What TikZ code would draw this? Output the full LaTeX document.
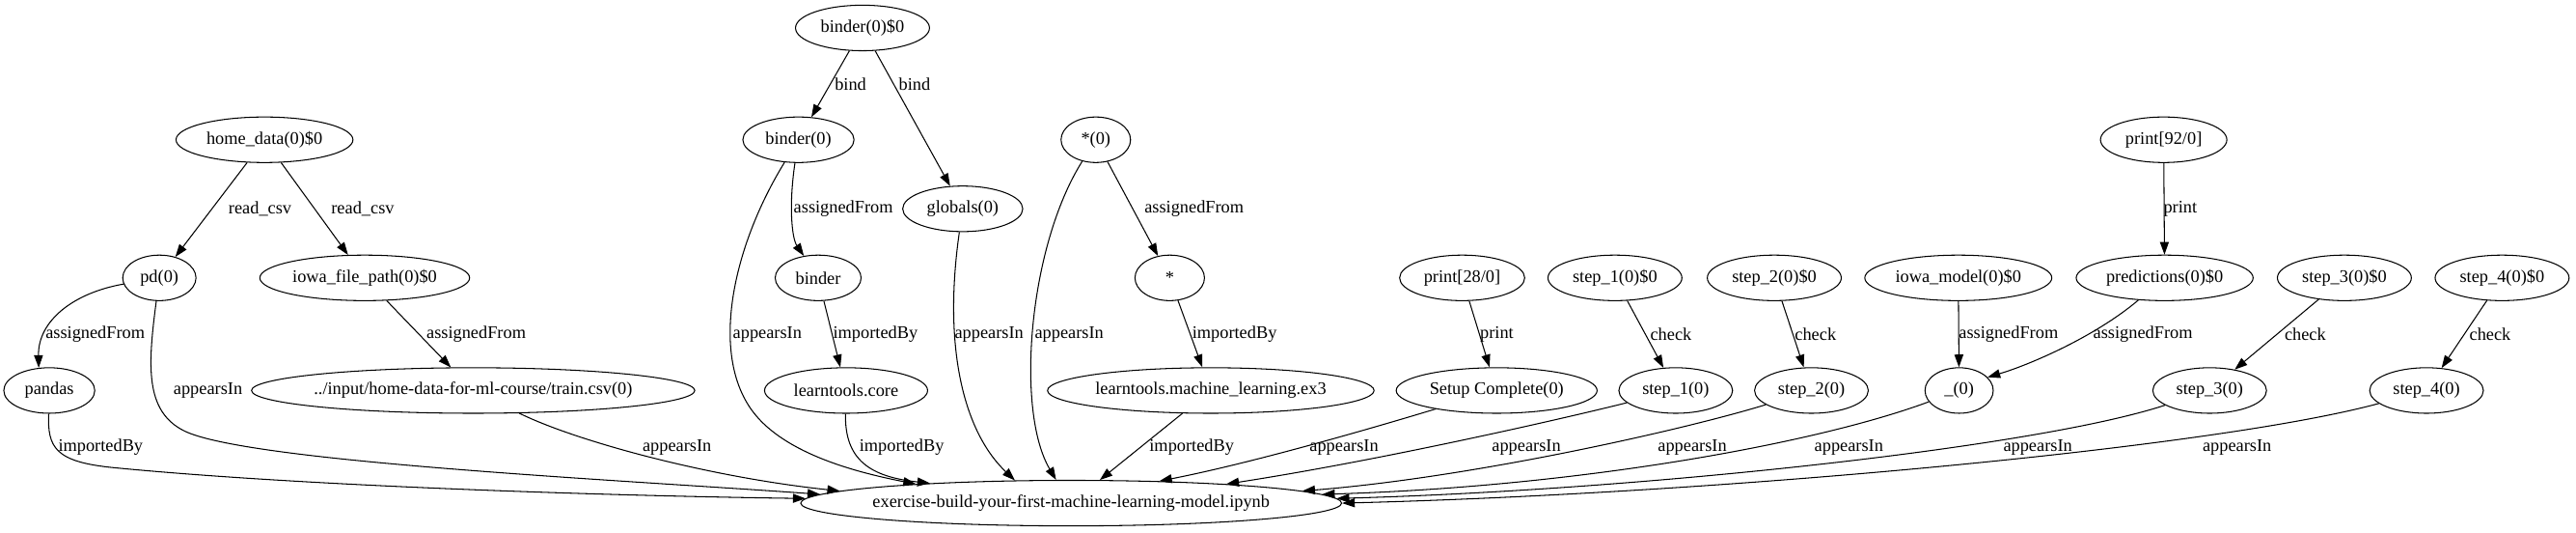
\documentclass[tikz,border=0pt]{standalone}
\usepackage{fontspec}
\setmainfont{Liberation Serif}
\usetikzlibrary{arrows.meta,shapes.geometric}

\begin{document}
\begin{tikzpicture}[
x=1.3pt, y=-1.3pt,
font=\fontsize{14}{16}\selectfont,
obj/.style={draw, ellipse, line width=0.8pt, minimum height=36pt, inner xsep=0pt, minimum width=#1},
obj/.default=54pt,
lbl/.style={anchor=west, inner sep=0pt},
arr/.style={-{Triangle[length=10pt, width=7pt]}, line width=0.8pt}
]
\useasboundingbox (0,0) rectangle (1568,324);

% objects, rank by rank
\node[obj=106pt] (bindvar) at (525,17) {binder(0)\$0};
\node[obj=140pt] (homedata) at (161,85) {home\_data(0)\$0};
\node[obj=88pt] (bindcall) at (486,85) {binder(0)};
\node[obj=55pt] (starcall) at (667,85) {*(0)};
\node[obj=100pt] (printB) at (1317,85) {print[92/0]};
\node[obj=95pt] (globs) at (586,127) {globals(0)};
\node[obj=58pt] (pd) at (97,169) {pd(0)};
\node[obj=166pt] (iowapath) at (222,169) {iowa\_file\_path(0)\$0};
\node[obj=68pt] (binder) at (498,169) {binder};
\node[obj=55pt] (star) at (712,169) {*};
\node[obj=99pt] (printA) at (890,169) {print[28/0]};
\node[obj=106pt] (stepAv) at (983,169) {step\_1(0)\$0};
\node[obj=106pt] (stepBv) at (1080,169) {step\_2(0)\$0};
\node[obj=148pt] (iowamodel) at (1192,169) {iowa\_model(0)\$0};
\node[obj=140pt] (preds) at (1317.6,169) {predictions(0)\$0};
\node[obj=106pt] (stepCv) at (1427,169) {step\_3(0)\$0};
\node[obj=106pt] (stepDv) at (1523,169) {step\_4(0)\$0};
\node[obj=72pt] (pandas) at (30,237.5) {pandas};
\node[obj=350pt, inner xsep=-2pt] (csv) at (288,237.5) {../input/home-data-for-ml-course/train.csv(0)};
\node[obj=129pt] (lcore) at (515,237.5) {learntools.core};
\node[obj=257pt] (lex) at (737,237.5) {learntools.machine\_learning.ex3};
\node[obj=159pt] (setup) at (911,237.5) {Setup Complete(0)};
\node[obj=90pt] (stepA) at (1020,237.5) {step\_1(0)};
\node[obj=90pt] (stepB) at (1102.6,237.5) {step\_2(0)};
\node[obj=54pt] (under) at (1192.5,237.5) {\_(0)};
\node[obj=90pt] (stepC) at (1345,237.5) {step\_3(0)};
\node[obj=90pt] (stepD) at (1477,237.5) {step\_4(0)};
\node[obj=428pt, inner xsep=-6pt] (nb) at (652,306) {exercise-build-your-first-machine-learning-model.ipynb};

% edge labels
\node[lbl] (lbindA) at (508,51) {bind};
\node[lbl] (lbindB) at (547,51) {bind};
\node[lbl] (lreadA) at (139,127) {read\_csv};
\node[lbl] (lreadB) at (201.5,127) {read\_csv};
\node[lbl] (lasgBind) at (483,127) {assignedFrom};
\node[lbl] (lasgStar) at (696.5,127) {assignedFrom};
\node[lbl] (lprintB) at (1316.8,127) {print};
\node[lbl] (lasgPd) at (27.6,203.5) {assignedFrom};
\node[lbl] (lasgPath) at (259.5,203.5) {assignedFrom};
\node[lbl] (lappBind) at (446,203.5) {appearsIn};
\node[lbl] (limpBinder) at (507,203.5) {importedBy};
\node[lbl] (lappGlobs) at (581,203.5) {appearsIn};
\node[lbl] (lappStar) at (629.7,203.5) {appearsIn};
\node[lbl] (limpStar) at (725.6,203.5) {importedBy};
\node[lbl] (lprintA) at (900.8,203.5) {print};
\node[lbl] (lcheckA) at (1004.4,203.5) {check};
\node[lbl] (lcheckB) at (1092.4,203.5) {check};
\node[lbl] (lasgModel) at (1192.2,203.5) {assignedFrom};
\node[lbl] (lasgPreds) at (1274,203.5) {assignedFrom};
\node[lbl] (lcheckC) at (1390.5,203.5) {check};
\node[lbl] (lcheckD) at (1503,203.5) {check};
\node[lbl] (lappPd) at (105.5,237.5) {appearsIn};
\node[lbl] (limpPandas) at (35.4,272) {importedBy};
\node[lbl] (lappCsv) at (391,272) {appearsIn};
\node[lbl] (limpCore) at (523,272) {importedBy};
\node[lbl] (limpEx) at (699.5,272) {importedBy};
\node[lbl] (lappSetup) at (797,272) {appearsIn};
\node[lbl] (lappA) at (908,272) {appearsIn};
\node[lbl] (lappB) at (1009,272) {appearsIn};
\node[lbl] (lappU) at (1104.3,272) {appearsIn};
\node[lbl] (lappC) at (1219.3,272) {appearsIn};
\node[lbl] (lappD) at (1340.6,272) {appearsIn};

% edges
\draw[arr] (bindvar) -- (bindcall);
\draw[arr] (bindvar) -- (globs);
\draw[arr] (homedata) -- (pd);
\draw[arr] (homedata) -- (iowapath);
\draw[arr] (pd) .. controls (45,178) and (23,195) .. (pandas.115);
\draw[arr] (pd) .. controls (90,222) and (88,250) .. (112,262) .. controls (150,281) and (380,292) .. (nb.178);
\draw[arr] (iowapath) -- (csv);
\draw[arr] (csv) .. controls (350,268) and (430,290) .. (nb.177);
\draw[arr] (pandas) .. controls (29,272) and (33,281) .. (70,284.5) .. controls (200,297) and (400,302) .. (nb.179);
\draw[arr] (bindcall) .. controls (480,125) and (482,145) .. (binder.123);
\draw[arr] (bindcall) .. controls (446,150) and (432,215) .. (458,250) .. controls (478,277) and (525,288) .. (nb.173);
\draw[arr] (binder) -- (lcore);
\draw[arr] (lcore) .. controls (514,280) and (530,290) .. (nb.172);
\draw[arr] (globs) .. controls (574,210) and (586,262) .. (nb.158);
\draw[arr] (starcall) .. controls (626,150) and (618,250) .. (nb.123);
\draw[arr] (starcall) -- (star);
\draw[arr] (star) -- (lex);
\draw[arr] (lex) -- (nb);
\draw[arr] (printA) -- (setup);
\draw[arr] (setup) .. controls (830,262) and (760,282) .. (nb.14);
\draw[arr] (stepAv) -- (stepA);
\draw[arr] (stepBv) -- (stepB);
\draw[arr] (iowamodel) -- (under);
\draw[arr] (printB) -- (preds);
\draw[arr] (preds) .. controls (1275,205) and (1235,222) .. (under.25);
\draw[arr] (stepCv) -- (stepC);
\draw[arr] (stepDv) -- (stepD);
\draw[arr] (stepA) .. controls (950,255) and (840,280) .. (nb.7);
\draw[arr] (stepB) .. controls (1030,260) and (900,290) .. (nb.3);
\draw[arr] (under) .. controls (1105,270) and (960,296) .. (nb.2);
\draw[arr] (stepC) .. controls (1240,272) and (1000,298) .. (nb.1);
\draw[arr] (stepD) .. controls (1350,272) and (1050,300) .. (nb.0);
\end{tikzpicture}
\end{document}
